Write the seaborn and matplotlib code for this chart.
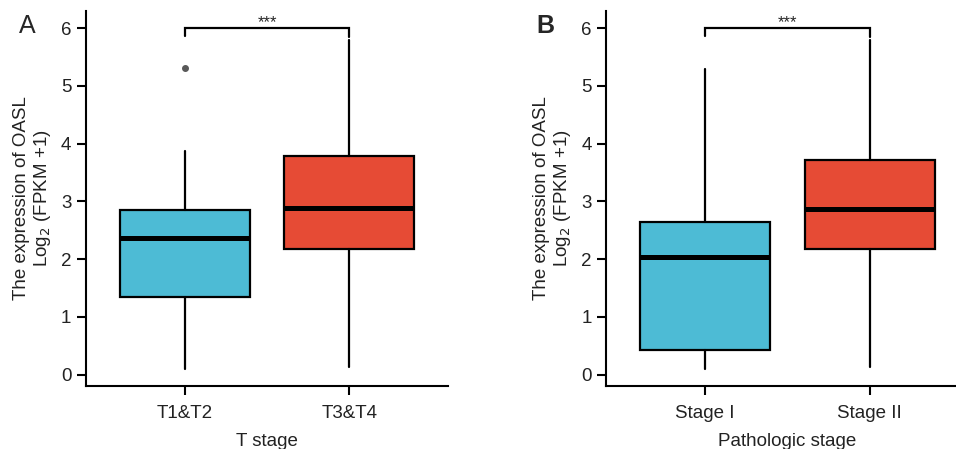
import matplotlib
matplotlib.use("Agg")
import matplotlib.pyplot as plt
import seaborn as sns

# box statistics (log2(FPKM+1))
labels_a = ["T1&T2", "T3&T4"]
whislo_a = [0.10, 0.13]
q1_a = [1.35, 2.17]
med_a = [2.37, 2.89]
q3_a = [2.85, 3.78]
whishi_a = [3.88, 5.80]
fliers_a = [[5.30], []]

labels_b = ["Stage I", "Stage II"]
whislo_b = [0.10, 0.13]
q1_b = [0.42, 2.18]
med_b = [2.04, 2.86]
q3_b = [2.64, 3.72]
whishi_b = [5.29, 5.80]
fliers_b = [[], []]

sig_text = "***"
sig_y = 6.0
sig_legs = [0.13, 0.15]

colors = ["#4DBBD5", "#E64B35"]

sns.set_style("ticks")
plt.rcParams["font.family"] = ["Liberation Sans", "DejaVu Sans"]


def draw_panel(ax, labels, lo, q1, med, q3, hi, fliers, xlabel):
    stats = []
    for i, lab in enumerate(labels):
        stats.append(dict(label=lab, whislo=lo[i], q1=q1[i], med=med[i],
                          q3=q3[i], whishi=hi[i], fliers=fliers[i]))
    bp = ax.bxp(stats, positions=range(len(labels)), widths=0.79,
                patch_artist=True, showcaps=False,
                boxprops=dict(linewidth=1.6, edgecolor="black"),
                whiskerprops=dict(linewidth=1.6, color="black"),
                medianprops=dict(linewidth=3.6, color="black", solid_capstyle="butt"),
                flierprops=dict(marker="o", markersize=4, markerfacecolor="#595959",
                                markeredgecolor="#595959"))
    for patch, c in zip(bp["boxes"], colors):
        patch.set_facecolor(c)
    # significance bracket
    ax.plot([0, 0, 1, 1], [sig_y - sig_legs[0], sig_y, sig_y, sig_y - sig_legs[1]],
            color="black", lw=1.6, solid_joinstyle="miter")
    ax.text(0.5, sig_y - 0.04, sig_text, ha="center", va="bottom", fontsize=12)
    ax.set_xlim(-0.6, 1.6)
    ax.set_ylim(-0.195, 6.295)
    ax.set_yticks(range(0, 7))
    ax.set_xticks(range(len(labels)))
    ax.set_xticklabels(labels)
    ax.tick_params(axis="both", length=6.5, width=1.5, labelsize=13.5,
                   labelcolor="#222222", color="black", pad=4)
    ax.tick_params(axis="x", pad=7)
    for s in ["left", "bottom"]:
        ax.spines[s].set_linewidth(1.5)
        ax.spines[s].set_color("black")
    sns.despine(ax=ax)
    ax.set_xlabel(xlabel, fontsize=13.5, color="#222222", labelpad=8)
    ax.set_ylabel("The expression of OASL\nLog$_2$ (FPKM +1)", fontsize=13.5,
                  color="#222222", labelpad=6, linespacing=1.1)


fig = plt.figure(figsize=(9.56, 4.49), dpi=100)
ax_a = fig.add_axes([0.090, 0.1403, 0.3787, 0.8352])
ax_b = fig.add_axes([0.6342, 0.1403, 0.3787, 0.8352])

draw_panel(ax_a, labels_a, whislo_a, q1_a, med_a, q3_a, whishi_a, fliers_a, "T stage")
draw_panel(ax_b, labels_b, whislo_b, q1_b, med_b, q3_b, whishi_b, fliers_b, "Pathologic stage")

fig.text(27 / 956, 1 - 26 / 449, "A", fontsize=18, ha="center", va="center")
fig.text(545 / 956, 1 - 26 / 449, "B", fontsize=18, fontweight="bold", ha="center", va="center")

fig.savefig("out.png", dpi=100)
